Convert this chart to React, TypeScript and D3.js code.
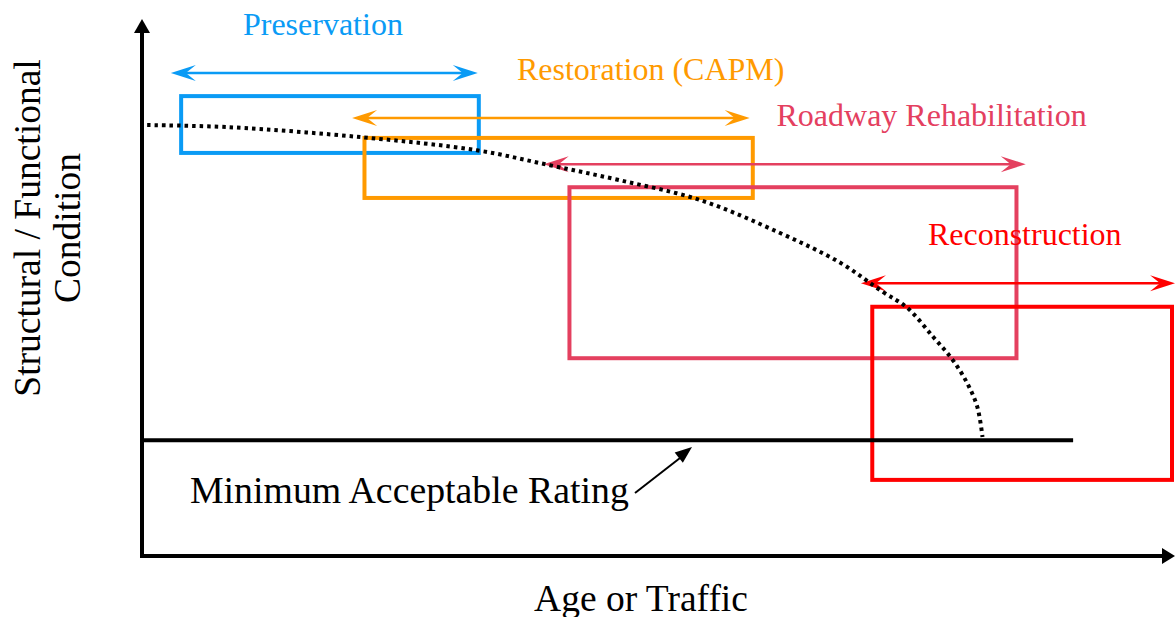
import * as d3 from 'd3';

// treatment programs (conceptual ranges on age / condition, 0-100 scale)
const programs = ['Preservation', 'Restoration (CAPM)', 'Roadway Rehabilitation', 'Reconstruction'];
const programColors = ['#0A9BF5', '#FF9A00', '#E4405F', '#FF0000'];
const boxAgeStart = [3.8, 21.6, 41.5, 70.9];
const boxAgeEnd = [32.7, 59.3, 84.9, 100];
const boxCondHigh = [85.8, 78.0, 68.8, 46.5];
const boxCondLow = [75.2, 66.8, 36.9, 14.2];
const rangeAgeStart = [2.8, 20.4, 39.0, 69.8];
const rangeAgeEnd = [32.6, 59.0, 85.8, 100.3];
const rangeCond = [90.1, 81.7, 73.1, 50.9];
const labelAge = [9.8, 36.4, 61.6, 76.3];

// deterioration curve
const curveAge = [0.5, 8.5, 21.5, 32.5, 39.6, 46.4, 54.2, 61.9, 67.8, 71.9, 74.3, 76.8, 78.7, 80.1, 81.1, 81.6];
const curveCond = [80.4, 80.0, 78.1, 75.7, 72.9, 70.1, 66.4, 60.3, 54.7, 49.3, 46.3, 40.9, 36.6, 32.3, 27.8, 22.2];

const minRating = 21.6;
const minRatingAgeEnd = 90.4;

const width = 1175;
const height = 617;
const font = 'Liberation Serif';

function arrowHead(x: number, y: number, angle: number, len: number, half: number, notch = 0.6) {
  // tip at (x,y), pointing along angle (radians)
  const c = Math.cos(angle);
  const s = Math.sin(angle);
  const pt = (a: number, b: number) => [x + a * c - b * s, y + a * s + b * c].join(',');
  return `M${pt(0, 0)}L${pt(-len, -half)}L${pt(-len * notch, 0)}L${pt(-len, half)}Z`;
}

export default function App() {
  const x = d3.scaleLinear().domain([0, 100]).range([142, 1172]);
  const y = d3.scaleLinear().domain([0, 100]).range([556, 20]);

  const curvePts = curveAge.map((a, i) => [a, curveCond[i]] as [number, number]);
  const line = d3
    .line<[number, number]>()
    .x((d) => x(d[0]))
    .y((d) => y(d[1]))
    .curve(d3.curveCatmullRom.alpha(0.5));

  return (
    <svg width={width} height={height} style={{ position: 'absolute', left: 0, top: 0 }}>
      <rect width={width} height={height} fill="white" />
      {/* boxes */}
      {programs.map((p, i) => (
        <rect
          key={'box' + i}
          x={x(boxAgeStart[i])}
          y={y(boxCondHigh[i])}
          width={x(boxAgeEnd[i]) - x(boxAgeStart[i])}
          height={y(boxCondLow[i]) - y(boxCondHigh[i])}
          fill="none"
          stroke={programColors[i]}
          strokeWidth={4}
        />
      ))}
      {/* range arrows */}
      {programs.map((p, i) => {
        const x0 = x(rangeAgeStart[i]);
        const x1 = x(rangeAgeEnd[i]);
        const yy = y(rangeCond[i]);
        return (
          <g key={'rng' + i} fill={programColors[i]} stroke={programColors[i]}>
            <line x1={x0 + 8} x2={x1 - 8} y1={yy} y2={yy} strokeWidth={2.5} />
            <path d={arrowHead(x0, yy, Math.PI, 25, 8)} stroke="none" />
            <path d={arrowHead(x1, yy, 0, 25, 8)} stroke="none" />
          </g>
        );
      })}
      {/* labels */}
      {programs.map((p, i) => (
        <text
          key={'lbl' + i}
          x={x(labelAge[i])}
          y={y(rangeCond[i]) - 38}
          fill={programColors[i]}
          style={{ fontFamily: font }}
          fontSize={32}
        >
          {p}
        </text>
      ))}
      {/* minimum acceptable rating */}
      <line x1={x(0)} x2={x(minRatingAgeEnd)} y1={y(minRating)} y2={y(minRating)} stroke="black" strokeWidth={4} />
      {/* deterioration curve */}
      <path d={line(curvePts) ?? ''} fill="none" stroke="black" strokeWidth={4} strokeDasharray="3.5,4" />
      {/* axes */}
      <line x1={x(0)} x2={x(0)} y1={y(0) + 2} y2={32} stroke="black" strokeWidth={4} />
      <path d={arrowHead(x(0), 19, -Math.PI / 2, 14, 8, 1)} fill="black" />
      <line x1={x(0) - 2} x2={1163} y1={y(0)} y2={y(0)} stroke="black" strokeWidth={4} />
      <path d={arrowHead(1175, y(0), 0, 13, 8, 1)} fill="black" />
      {/* annotation */}
      <text x={190} y={503} style={{ fontFamily: font }} fontSize={37.8} fill="black">
        Minimum Acceptable Rating
      </text>
      <line x1={635} y1={493} x2={680} y2={458} stroke="black" strokeWidth={2} />
      <path d={arrowHead(692, 447, Math.atan2(-46, 57), 17, 6.5, 1)} fill="black" />
      <text x={641} y={611} textAnchor="middle" style={{ fontFamily: font }} fontSize={37.5} fill="black">
        Age or Traffic
      </text>
      <text transform="translate(40,228) rotate(-90)" textAnchor="middle" style={{ fontFamily: font }} fontSize={37.5}>
        Structural / Functional
      </text>
      <text transform="translate(80,228) rotate(-90)" textAnchor="middle" style={{ fontFamily: font }} fontSize={37.5}>
        Condition
      </text>
    </svg>
  );
}
